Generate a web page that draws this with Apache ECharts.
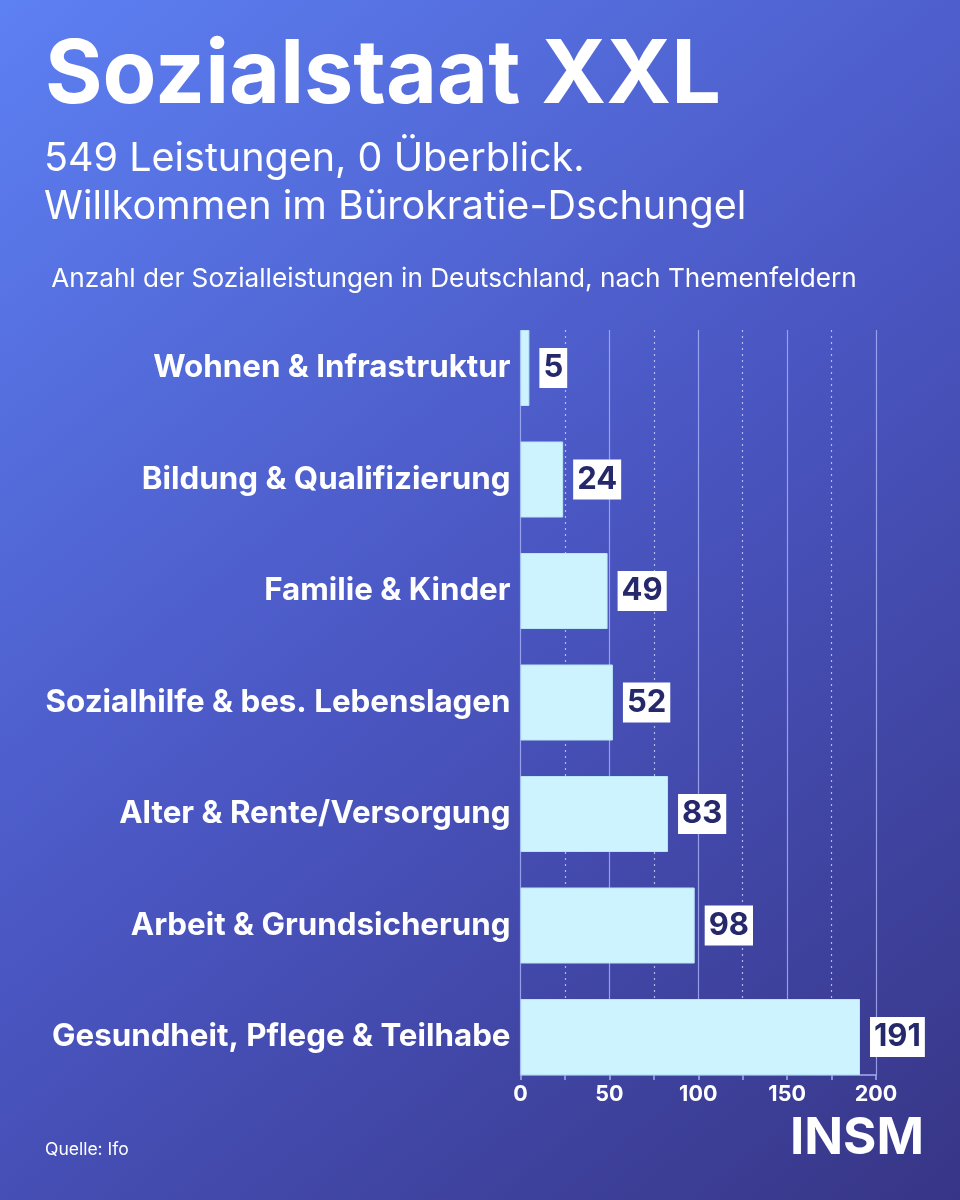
<!DOCTYPE html>
<html>
<head>
<meta charset="utf-8">
<script src="https://cdn.jsdelivr.net/npm/echarts@6/dist/echarts.min.js"></script>
<style>
html,body{margin:0;padding:0;width:960px;height:1200px;overflow:hidden;}
#c{width:960px;height:1200px;}
</style>
</head>
<body>
<div id="c"></div>
<script>
const categories = ['Wohnen & Infrastruktur','Bildung & Qualifizierung','Familie & Kinder','Sozialhilfe & bes. Lebenslagen','Alter & Rente/Versorgung','Arbeit & Grundsicherung','Gesundheit, Pflege & Teilhabe'];
const values = [5, 24, 49, 52, 83, 98, 191];
const axisMin = 0, axisMax = 200, axisInterval = 50;

const FONT = 'Inter, "Noto Sans", sans-serif';
const chart = echarts.init(document.getElementById('c'), null, {renderer:'canvas'});
chart.setOption({
  backgroundColor: {type:'linear', x:0, y:0, x2:1, y2:1, colorStops:[
    {offset:0, color:'#5d80f3'},
    {offset:0.5, color:'#4a56c2'},
    {offset:1, color:'#373586'}
  ]},
  graphic: [
    {type:'text', x:45, y:77, style:{text:'Sozialstaat XXL', fill:'#fff', font:'bold 88px ' + FONT, textVerticalAlign:'middle'}},
    {type:'text', x:44, y:159, style:{text:'549 Leistungen, 0 Überblick.', fill:'#fff', font:'39.5px ' + FONT, textVerticalAlign:'middle'}},
    {type:'text', x:44, y:207, style:{text:'Willkommen im Bürokratie-Dschungel', fill:'#fff', font:'39.5px ' + FONT, textVerticalAlign:'middle'}},
    {type:'text', x:454, y:279, style:{text:'Anzahl der Sozialleistungen in Deutschland, nach Themenfeldern', fill:'#fff', font:'26.2px ' + FONT, textAlign:'center', textVerticalAlign:'middle'}},
    {type:'text', x:45, y:1150, style:{text:'Quelle: Ifo', fill:'#fff', font:'17.5px ' + FONT, textVerticalAlign:'middle'}},
    {type:'text', x:924, y:1139, style:{text:'INSM', fill:'#fff', font:'bold 51px ' + FONT, textAlign:'right', textVerticalAlign:'middle'}}
  ],
  grid: [
    {left:520.5, right:84, top:312.25, bottom:107.25, containLabel:false},
    {left:520.5, right:84, top:330, bottom:125, containLabel:false}
  ],
  xAxis: [
    {gridIndex:0, type:'value', min:axisMin, max:axisMax, show:false},
    {gridIndex:1, type:'value', min:axisMin, max:axisMax, interval:axisInterval,
      axisLine:{show:true, lineStyle:{color:'#a7aef0', width:1.5}},
      axisTick:{show:true, length:5, lineStyle:{color:'#a7aef0', width:1.5}},
      minorTick:{show:true, splitNumber:2, length:5, lineStyle:{color:'#a7aef0', width:1.5}},
      axisLabel:{color:'#fff', fontFamily:FONT, fontWeight:'bold', fontSize:21.5, margin:9},
      splitLine:{show:true, lineStyle:{color:'rgba(170,180,250,0.8)', width:1.2}},
      minorSplitLine:{show:true, lineStyle:{color:'rgba(215,222,255,0.75)', width:1.2, type:[2,4]}}
    }
  ],
  yAxis: [
    {gridIndex:0, type:'category', data:categories, inverse:true,
      axisLine:{show:false}, axisTick:{show:false}, splitLine:{show:false},
      axisLabel:{color:'#fff', fontFamily:FONT, fontWeight:'bold', fontSize:31.3, margin:10}
    },
    {gridIndex:1, type:'value', show:false, min:0, max:1}
  ],
  series: [{
    type:'bar', xAxisIndex:0, yAxisIndex:0, data:values, barWidth:76,
    itemStyle:{color:'#cdf3fe', borderColor:'#b9e6f7', borderWidth:1},
    label:{show:true, position:'right', distance:10, backgroundColor:'#fff',
      color:'#26286c', fontFamily:FONT, fontWeight:'bold', fontSize:31, lineHeight:34, padding:[4,4,2,4]}
  }]
});
</script>
</body>
</html>
